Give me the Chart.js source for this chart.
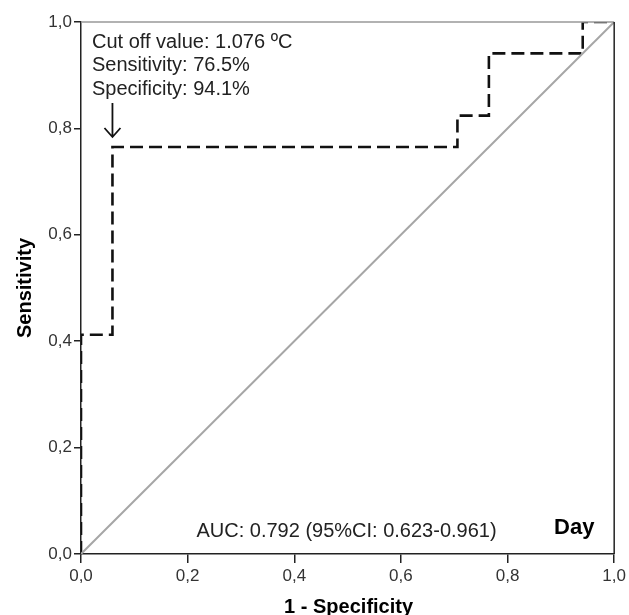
<!DOCTYPE html>
<html>
<head>
<meta charset="utf-8">
<script src="https://cdn.jsdelivr.net/npm/chart.js@4/dist/chart.umd.min.js"></script>
<style>
  html, body { margin: 0; padding: 0; background: #fff; }
  #wrap { width: 629px; height: 615px; }
</style>
</head>
<body>
<div id="wrap"><canvas id="roc" width="629" height="615"></canvas></div>
<script>
// ROC points (1 - specificity, sensitivity)
const fpr = [0, 0, 0.059, 0.059, 0.706, 0.706, 0.765, 0.765, 0.941, 0.941, 1];
const tpr = [0, 0.412, 0.412, 0.765, 0.765, 0.824, 0.824, 0.941, 0.941, 1, 1];
const refX = [0, 1];
const refY = [0, 1];
const tickValues = [0, 0.2, 0.4, 0.6, 0.8, 1];
const noteLines = ["Cut off value: 1.076 \u00baC", "Sensitivity: 76.5%", "Specificity: 94.1%"];
const cutPoint = [0.059, 0.765];
const aucText = "AUC: 0.792 (95%CI: 0.623-0.961)";
const groupLabel = "Day";

const FONT = "'Liberation Sans', Arial, sans-serif";

// frame + annotations
const extras = {
  id: "extras",
  afterDatasetsDraw(chart) {
    const { ctx, chartArea: a, scales: { x, y } } = chart;
    ctx.save();
    // top (grey) and right (black) frame
    ctx.lineWidth = 1.5;
    ctx.strokeStyle = "#999";
    ctx.beginPath(); ctx.moveTo(a.left, a.top); ctx.lineTo(a.right, a.top); ctx.stroke();
    ctx.strokeStyle = "#222";
    ctx.beginPath(); ctx.moveTo(a.right, a.top); ctx.lineTo(a.right, a.bottom); ctx.stroke();

    // note text
    ctx.fillStyle = "#222";
    ctx.font = "20px " + FONT;
    ctx.textAlign = "left";
    ctx.textBaseline = "middle";
    noteLines.forEach((t, i) => ctx.fillText(t, a.left + 11, a.top + 20 + i * 23.5));

    // arrow to cut point
    const ax = x.getPixelForValue(cutPoint[0]);
    const ay = y.getPixelForValue(cutPoint[1]);
    ctx.strokeStyle = "#111";
    ctx.lineWidth = 1.8;
    ctx.beginPath();
    ctx.moveTo(ax, ay - 44); ctx.lineTo(ax, ay - 10);
    ctx.moveTo(ax - 8, ay - 19); ctx.lineTo(ax, ay - 10); ctx.lineTo(ax + 8, ay - 19);
    ctx.stroke();

    // AUC + group label
    ctx.font = "20px " + FONT;
    ctx.textAlign = "center";
    ctx.fillText(aucText, x.getPixelForValue(0.498), a.bottom - 23);
    ctx.font = "bold 22px " + FONT;
    ctx.fillStyle = "#000";
    ctx.fillText(groupLabel, x.getPixelForValue(0.925), a.bottom - 26);

    // axis titles
    ctx.font = "bold 20px " + FONT;
    ctx.fillText("1 - Specificity", (a.left + a.right) / 2 + 1, a.bottom + 53);
    ctx.translate(25, y.getPixelForValue(0.5));
    ctx.rotate(-Math.PI / 2);
    ctx.fillText("Sensitivity", 0, 0);
    ctx.restore();
  }
};

const tickFmt = (v) => v.toFixed(1).replace(".", ",");

new Chart(document.getElementById("roc"), {
  type: "scatter",
  data: {
    datasets: [
      {
        data: refX.map((v, i) => ({ x: v, y: refY[i] })),
        showLine: true,
        borderColor: "#a6a6a6",
        borderWidth: 2,
        pointRadius: 0
      },
      {
        data: fpr.map((v, i) => ({ x: v, y: tpr[i] })),
        showLine: true,
        borderColor: "#111",
        borderWidth: 2.6,
        borderDash: [13, 6],
        pointRadius: 0
      }
    ]
  },
  options: {
    responsive: false,
    animation: false,
    layout: { padding: { top: 22, right: 14, left: 0, bottom: 0 } },
    plugins: { legend: { display: false }, tooltip: { enabled: false } },
    scales: {
      x: {
        type: "linear", min: 0, max: 1,
        afterBuildTicks: (s) => { s.ticks = tickValues.map(v => ({ value: v })); },
        afterFit: (s) => { s.height = 61; },
        border: { display: true, color: "#222", width: 1.5 },
        grid: { drawOnChartArea: false, drawTicks: true, tickLength: 9, color: "#222", lineWidth: 1.5 },
        ticks: { callback: tickFmt, color: "#333", font: { family: FONT, size: 17 }, padding: 3, maxRotation: 0 }
      },
      y: {
        type: "linear", min: 0, max: 1,
        afterBuildTicks: (s) => { s.ticks = tickValues.map(v => ({ value: v })); },
        afterFit: (s) => { s.width = 81; },
        border: { display: true, color: "#222", width: 1.5 },
        grid: { drawOnChartArea: false, drawTicks: true, tickLength: 7, color: "#222", lineWidth: 1.5 },
        ticks: { callback: tickFmt, color: "#333", font: { family: FONT, size: 17 }, padding: 2 }
      }
    }
  },
  plugins: [extras]
});
</script>
</body>
</html>
